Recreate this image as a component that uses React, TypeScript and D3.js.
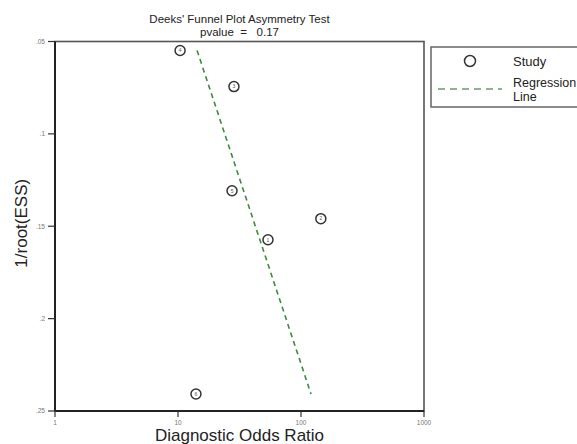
import React from "react";
import * as d3 from "d3";

const studyIds = ["1", "2", "3", "4", "5", "6"];
const diagnosticOddsRatio = [53.9, 145, 28.5, 10.4, 27.5, 14.0];
const invRootESS = [0.1573, 0.1459, 0.0744, 0.0549, 0.1308, 0.2408];

const regressionY = [0.0549, 0.2408];
const regressionDOR = [14.3, 120.6];

const xTickValues = [1, 10, 100, 1000];
const xTickLabels = ["1", "10", "100", "1000"];
const yTickValues = [0.05, 0.1, 0.15, 0.2, 0.25];
const yTickLabels = [".05", ".1", ".15", ".2", ".25"];

const titleLines = ["Deeks' Funnel Plot Asymmetry Test", "pvalue  =   0.17"];
const legendLabels = ["Study", "Regression", "Line"];

const W = 577;
const H = 444;
const plot = { left: 55, right: 424, top: 41.5, bottom: 411 };
const FONT = "'Liberation Sans', Arial, Helvetica, sans-serif";
const GREEN = "#3f8a3f";

export default function App() {
  const x = d3.scaleLog().domain([1, 1000]).range([plot.left, plot.right]);
  const y = d3.scaleLinear().domain([0.05, 0.25]).range([plot.top, plot.bottom]);
  const line = d3
    .line<number>()
    .x((_, i) => x(regressionDOR[i]))
    .y((v) => y(v));
  const cx = (plot.left + plot.right) / 2;
  const cy = (plot.top + plot.bottom) / 2;

  return (
    <svg
      width={W}
      height={H}
      style={{ position: "absolute", left: 0, top: 0, background: "#fff" }}
      fontFamily={FONT}
    >
      <rect x={0} y={0} width={W} height={H} fill="#fff" />
      {/* title */}
      <text x={cx} y={23} textAnchor="middle" fontSize={11.5} fill="#222">
        {titleLines[0]}
      </text>
      <text x={cx} y={35.5} textAnchor="middle" fontSize={11.5} fill="#222" style={{ whiteSpace: "pre" }}>
        {titleLines[1]}
      </text>

      {/* plot frame */}
      <rect
        x={plot.left}
        y={plot.top}
        width={plot.right - plot.left}
        height={plot.bottom - plot.top}
        fill="none"
        stroke="#555"
        strokeWidth={1.6}
      />
      <line x1={plot.left} x2={plot.left} y1={plot.top} y2={plot.bottom} stroke="#222" strokeWidth={2} />
      <line x1={plot.left} x2={plot.right} y1={plot.bottom} y2={plot.bottom} stroke="#222" strokeWidth={2} />

      {/* y ticks */}
      {yTickValues.map((v, i) => (
        <g key={"y" + i}>
          <line x1={plot.left - 7} x2={plot.left} y1={y(v)} y2={y(v)} stroke="#333" strokeWidth={1.2} />
          <text x={plot.left - 10} y={y(v) + 2.3} textAnchor="end" fontSize={6.5} fill="#777">
            {yTickLabels[i]}
          </text>
        </g>
      ))}
      {/* x ticks */}
      {xTickValues.map((v, i) => (
        <g key={"x" + i}>
          <line x1={x(v)} x2={x(v)} y1={plot.bottom} y2={plot.bottom + 6} stroke="#333" strokeWidth={1.2} />
          <text x={x(v)} y={plot.bottom + 14} textAnchor="middle" fontSize={6.5} fill="#777">
            {xTickLabels[i]}
          </text>
        </g>
      ))}

      {/* axis titles */}
      <text x={cx} y={441} textAnchor="middle" fontSize={17} fill="#222">
        Diagnostic Odds Ratio
      </text>
      <text
        transform={`translate(${27},${cy - 3}) rotate(-90)`}
        textAnchor="middle"
        fontSize={17}
        fill="#222"
      >
        1/root(ESS)
      </text>

      {/* regression line */}
      <path d={line(regressionY) || ""} fill="none" stroke={GREEN} strokeWidth={1.6} strokeDasharray="5,4" />

      {/* studies */}
      {studyIds.map((id, i) => (
        <g key={"s" + id}>
          <circle cx={x(diagnosticOddsRatio[i])} cy={y(invRootESS[i])} r={5} fill="#fff" stroke="#333" strokeWidth={1.5} />
          <text
            x={x(diagnosticOddsRatio[i])}
            y={y(invRootESS[i]) + 1.8}
            textAnchor="middle"
            fontSize={5}
            fill="#555"
          >
            {id}
          </text>
        </g>
      ))}

      {/* legend */}
      <rect x={431} y={47} width={170} height={60} fill="#fff" stroke="#666" strokeWidth={1.5} />
      <circle cx={470} cy={61} r={5.5} fill="none" stroke="#333" strokeWidth={1.5} />
      <text x={513} y={65.5} fontSize={13} fill="#222">
        {legendLabels[0]}
      </text>
      <line x1={438} x2={502} y1={89} y2={89} stroke="#6a9a6a" strokeWidth={1.4} strokeDasharray="7,5" />
      <text x={513} y={87} fontSize={12.5} fill="#222">
        {legendLabels[1]}
      </text>
      <text x={513} y={100.5} fontSize={12.5} fill="#222">
        {legendLabels[2]}
      </text>
    </svg>
  );
}
